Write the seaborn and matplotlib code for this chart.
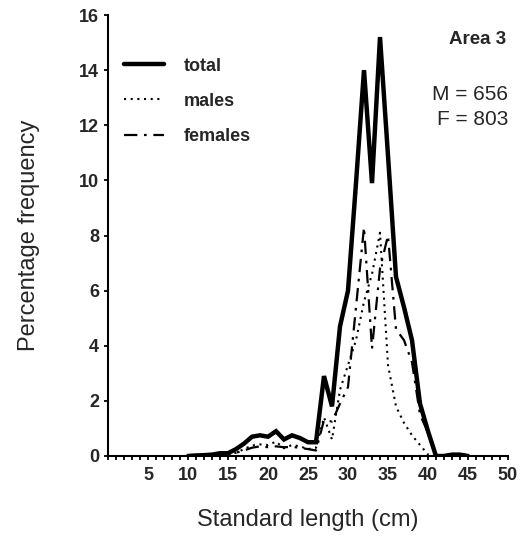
import numpy as np
import pandas as pd
import matplotlib
matplotlib.use("Agg")
import matplotlib.pyplot as plt
import seaborn as sns

length_cm = list(range(10, 46))
total = [0, 0.02, 0.03, 0.05, 0.1, 0.1, 0.25, 0.45, 0.7, 0.75, 0.7, 0.9, 0.6, 0.75, 0.65, 0.5,
         0.5, 2.9, 1.8, 4.7, 6.0, 9.9, 14.0, 9.9, 15.2, 10.9, 6.5, 5.4, 4.2, 1.9, 0.9, 0.0,
         0.0, 0.05, 0.05, 0.0]
males = [0, 0, 0, 0, 0.02, 0.05, 0.12, 0.25, 0.38, 0.42, 0.4, 0.52, 0.28, 0.4, 0.35, 0.25,
         0.3, 1.4, 0.6, 2.4, 3.3, 4.2, 5.6, 6.6, 8.1, 3.3, 1.8, 1.2, 0.75, 0.4, 0.05, 0.0,
         0, 0, 0, 0]
females = [0, 0, 0, 0, 0.05, 0.05, 0.12, 0.2, 0.3, 0.35, 0.32, 0.35, 0.32, 0.33, 0.3, 0.25,
           0.2, 1.3, 1.25, 1.9, 2.5, 5.4, 8.3, 3.9, 6.8, 8.0, 4.6, 4.2, 3.4, 1.5, 0.85, 0.0,
           0, 0, 0, 0]
series_names = ["total", "males", "females"]
y_ticks = list(range(0, 17, 2))
x_ticks = list(range(5, 51, 5))

sns.set_style("ticks")
plt.rcParams['font.family'] = ['Liberation Sans', 'DejaVu Sans']

fig = plt.figure(figsize=(5.25, 5.39), dpi=100)
ax = fig.add_axes([108/525, 1-456/539, 400/525, 441/539])

df = pd.DataFrame({"length": length_cm, "total": total, "males": males, "females": females})

sns.lineplot(data=df, x="length", y="total", ax=ax, color="black", lw=3.2,
             label="total", solid_joinstyle="miter")
sns.lineplot(data=df, x="length", y="males", ax=ax, color="black", lw=1.5,
             label="males", linestyle=(0, (1, 2.2)))
sns.lineplot(data=df, x="length", y="females", ax=ax, color="black", lw=1.6,
             label="females", linestyle=(0, (6, 3, 1.2, 3)))

ax.set_xlim(0, 50)
ax.set_ylim(0, 16)
ax.set_yticks(y_ticks)
ax.set_yticklabels([str(v) for v in y_ticks], fontsize=13, fontweight="bold")
ax.set_xticks(x_ticks)
ax.set_xticklabels([str(v) for v in x_ticks], fontsize=13, fontweight="bold")
ax.set_xticks(range(0, 51), minor=True)
ax.tick_params(axis="both", which="both", direction="out", length=3, width=1.3, color="black")
ax.tick_params(axis="x", which="major", pad=5)
for s in ["top", "right"]:
    ax.spines[s].set_visible(False)
for s in ["left", "bottom"]:
    ax.spines[s].set_linewidth(1.5)
    ax.spines[s].set_color("black")

ax.set_xlabel("Standard length (cm)", fontsize=17, labelpad=18)
ax.set_ylabel("Percentage frequency", fontsize=17, labelpad=28)

leg = ax.legend(loc="upper left", bbox_to_anchor=(0.0, 0.94), frameon=False,
                handlelength=2.2, handletextpad=1.1, labelspacing=1.0,
                prop={"size": 13, "weight": "bold"})

ax.text(0.995, 0.945, "Area 3", transform=ax.transAxes, ha="right", va="center",
        fontsize=13.5, fontweight="bold")
ax.text(1.0, 0.82, "M = 656", transform=ax.transAxes, ha="right", va="center", fontsize=15)
ax.text(1.0, 0.763, "F = 803", transform=ax.transAxes, ha="right", va="center", fontsize=15)

fig.savefig("out.png", dpi=100)
